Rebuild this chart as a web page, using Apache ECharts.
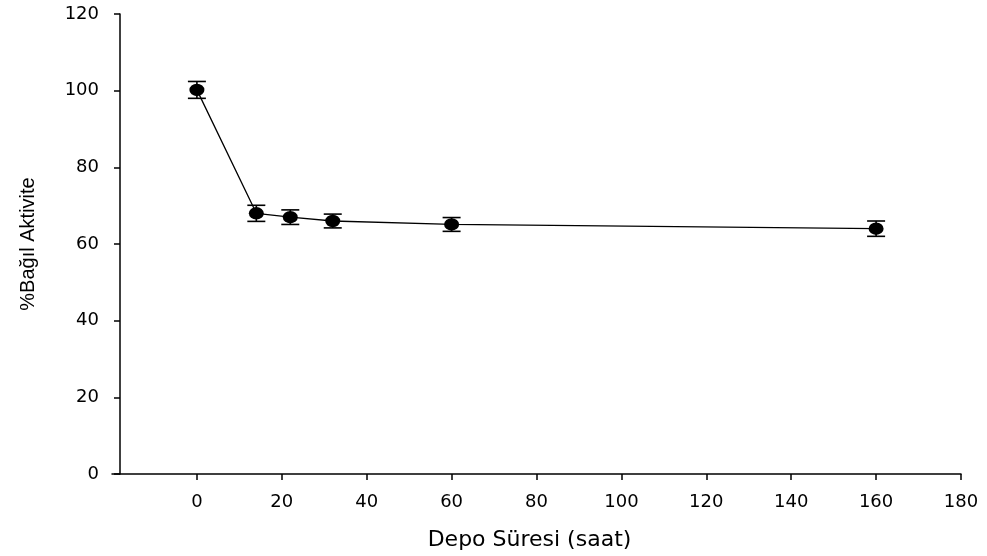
<!DOCTYPE html>
<html>
<head>
<meta charset="utf-8">
<script src="https://cdn.jsdelivr.net/npm/echarts@6/dist/echarts.min.js"></script>
<style>
  html, body { margin: 0; padding: 0; background: #fff; }
  #chart { width: 987px; height: 556px; }
</style>
</head>
<body>
<div id="chart"></div>
<script>
// Storage time (hours) and relative activity (%) with standard deviation
const storageHours = [0, 14, 22, 32, 60, 160];
const relativeActivity = [100.2, 68.0, 67.0, 66.0, 65.1, 64.0];
const activityError = [2.2, 2.1, 1.9, 1.8, 1.8, 2.0];

// Tick labels
const xTicks = [0, 20, 40, 60, 80, 100, 120, 140, 160, 180];
const yTicks = [0, 20, 40, 60, 80, 100, 120];

const xTitle = 'Depo Süresi (saat)';
const yTitle = '%Bağıl Aktivite';

const points = storageHours.map((h, i) => [h, relativeActivity[i]]);
const errorRows = storageHours.map((h, i) => [h, relativeActivity[i], activityError[i]]);

const chart = echarts.init(document.getElementById('chart'), null, { renderer: 'canvas' });

const tickFont = 'DejaVu Sans';

chart.setOption({
  animation: false,
  backgroundColor: '#ffffff',
  grid: { left: 112, right: 26, top: 14, bottom: 82, containLabel: false },
  xAxis: {
    type: 'value',
    min: -20,
    max: 180,
    interval: 20,
    name: xTitle,
    nameLocation: 'middle',
    nameGap: 55,
    nameTextStyle: { fontFamily: tickFont, fontSize: 22, color: '#000', padding: [0, 14, 0, 0] },
    axisLine: { onZero: false, lineStyle: { color: '#000', width: 1.5 } },
    axisTick: { show: true, length: 6, customValues: xTicks, lineStyle: { color: '#000', width: 1.5 } },
    axisLabel: { customValues: xTicks, margin: 19, fontFamily: tickFont, fontSize: 18, color: '#000' },
    splitLine: { show: false }
  },
  yAxis: {
    type: 'value',
    min: 0,
    max: 120,
    interval: 20,
    offset: -8,
    name: yTitle,
    nameLocation: 'middle',
    nameGap: 82,
    nameRotate: 90,
    nameTextStyle: { fontFamily: 'Liberation Sans, Arial', fontSize: 20, color: '#000' },
    axisLine: { show: true, onZero: false, lineStyle: { color: '#000', width: 1.5 } },
    axisTick: { show: true, length: 6, customValues: yTicks, lineStyle: { color: '#000', width: 1.5 } },
    axisLabel: { customValues: yTicks, margin: 21, fontFamily: tickFont, fontSize: 18, color: '#000' },
    splitLine: { show: false }
  },
  series: [
    {
      type: 'custom',
      name: 'error',
      data: errorRows,
      z: 1,
      silent: true,
      renderItem: function (params, api) {
        const x = api.value(0);
        const y = api.value(1);
        const e = api.value(2);
        const top = api.coord([x, y + e]);
        const bot = api.coord([x, y - e]);
        const hw = 9;
        const style = { stroke: '#000', lineWidth: 1.6 };
        return {
          type: 'group',
          children: [
            { type: 'line', shape: { x1: top[0], y1: top[1], x2: bot[0], y2: bot[1] }, style: style },
            { type: 'line', shape: { x1: top[0] - hw, y1: top[1], x2: top[0] + hw, y2: top[1] }, style: style },
            { type: 'line', shape: { x1: bot[0] - hw, y1: bot[1], x2: bot[0] + hw, y2: bot[1] }, style: style }
          ]
        };
      }
    },
    {
      type: 'line',
      name: 'activity',
      data: points,
      z: 2,
      symbol: 'circle',
      symbolSize: [15, 12.5],
      showSymbol: true,
      lineStyle: { color: '#000', width: 1.3 },
      itemStyle: { color: '#000', borderWidth: 0 }
    }
  ]
});
</script>
</body>
</html>
